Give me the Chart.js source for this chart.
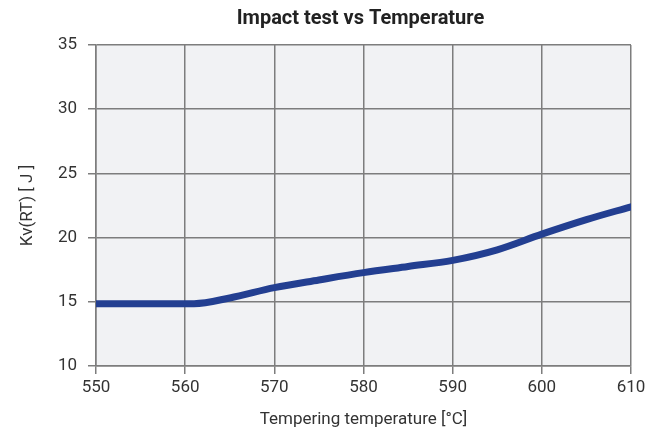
<!DOCTYPE html>
<html>
<head>
<meta charset="utf-8">
<script src="https://cdn.jsdelivr.net/npm/chart.js@4"></script>
<style>
html,body{margin:0;padding:0;background:#fff;}
canvas{display:block;}
</style>
</head>
<body>
<canvas id="c" width="646" height="434"></canvas>
<script>
const temperatures = [550, 561, 565, 570, 575, 580, 585, 590, 595, 600, 605, 610];
const impactKv = [14.85, 14.85, 15.3, 16.1, 16.7, 17.27, 17.75, 18.23, 19.05, 20.27, 21.4, 22.4];
const yTicks = [10, 15, 20, 25, 30, 35];
const xTicks = [550, 560, 570, 580, 590, 600, 610];
const chartTitle = 'Impact test vs Temperature';

const plotBg = {
  id: 'plotBg',
  beforeDraw(chart) {
    const {ctx, chartArea: a} = chart;
    ctx.save();
    ctx.fillStyle = '#f1f2f4';
    ctx.fillRect(a.left, a.top, a.right - a.left, a.bottom - a.top);
    ctx.restore();
  },
  afterDraw(chart) {
    const {ctx, chartArea: a} = chart;
    ctx.save();
    ctx.fillStyle = '#222222';
    ctx.font = 'bold 20px Roboto';
    ctx.textAlign = 'center';
    ctx.textBaseline = 'middle';
    ctx.fillText(chartTitle, (a.left + a.right) / 2 - 3, 19);
    ctx.restore();
  }
};

const gridColor = '#7d7d7d';
const textColor = '#333333';

new Chart(document.getElementById('c'), {
  type: 'line',
  data: {
    datasets: [{
      data: temperatures.map((t, i) => ({x: t, y: impactKv[i]})),
      borderColor: '#233f91',
      borderWidth: 7,
      borderCapStyle: 'round',
      borderJoinStyle: 'round',
      pointRadius: 0,
      cubicInterpolationMode: 'monotone',
      fill: false
    }]
  },
  options: {
    responsive: false,
    animation: false,
    layout: {padding: {left: 0, right: 15, top: 45, bottom: 0}},
    plugins: {
      legend: {display: false},
      tooltip: {enabled: false},
      title: {display: false}
    },
    scales: {
      x: {
        type: 'linear',
        min: 550, max: 610,
        afterBuildTicks(s) { s.ticks = xTicks.map(v => ({value: v})); },
        afterFit(s) { s.height = 68; s.paddingRight = 0; s.paddingLeft = 0; },
        border: {display: true, color: gridColor, width: 1.5},
        grid: {color: gridColor, lineWidth: 1.5, tickLength: 8, drawTicks: true},
        ticks: {color: textColor, font: {family: 'Roboto', size: 17}, padding: 4, maxRotation: 0},
        title: {display: true, text: 'Tempering temperature [°C]', color: textColor,
          font: {family: 'Roboto', size: 17}, padding: {top: 4, bottom: 4}}
      },
      y: {
        type: 'linear',
        min: 10, max: 35,
        afterBuildTicks(s) { s.ticks = yTicks.map(v => ({value: v})); },
        afterFit(s) { s.width = 96; },
        border: {display: true, color: gridColor, width: 1.5},
        grid: {color: gridColor, lineWidth: 1.5, tickLength: 8, drawTicks: true},
        ticks: {color: textColor, font: {family: 'Roboto', size: 17}, padding: 11},
        title: {display: true, text: 'Kv(RT) [ J ]', color: textColor,
          font: {family: 'Roboto', size: 17}, padding: {top: 18, bottom: 0}}
      }
    }
  },
  plugins: [plotBg]
});
</script>
</body>
</html>
